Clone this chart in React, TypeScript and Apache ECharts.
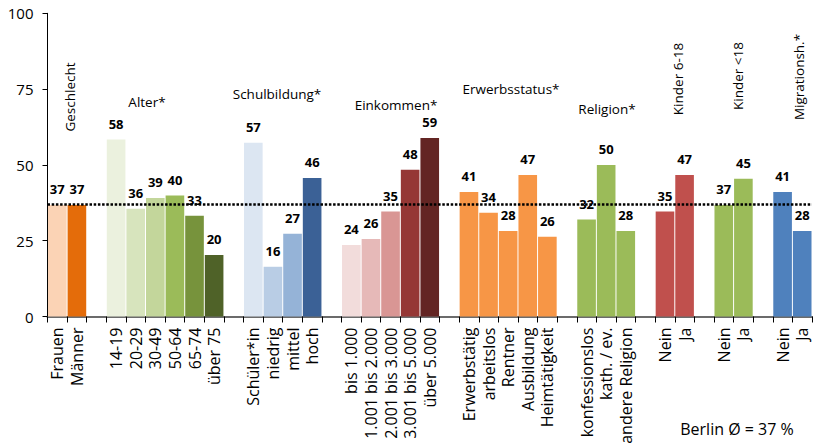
import React, { useEffect, useRef } from "react";
import * as echarts from "echarts";

// ---- data ----
const geschlechtNames = ["Frauen", "Männer"];
const geschlechtValues = [36.8, 36.8];
const alterNames = ["14-19", "20-29", "30-49", "50-64", "65-74", "über 75"];
const alterValues = [58.4, 35.5, 39.1, 39.9, 33.2, 20.3];
const schulNames = ["Schüler*in", "niedrig", "mittel", "hoch"];
const schulValues = [57.3, 16.4, 27.3, 45.7];
const einkommenNames = ["bis 1.000", "1.001 bis 2.000", "2.001 bis 3.000", "3.001 bis 5.000", "über 5.000"];
const einkommenValues = [23.6, 25.6, 34.6, 48.4, 58.9];
const erwerbNames = ["Erwerbstätig", "arbeitslos", "Rentner", "Ausbildung", "Heimtätigkeit"];
const erwerbValues = [41.1, 34.2, 28.2, 46.7, 26.3];
const religionNames = ["konfessionslos", "kath. / ev.", "andere Religion"];
const religionValues = [32.0, 50.0, 28.2];
const kinder618Names = ["Nein", "Ja"];
const kinder618Values = [34.6, 46.7];
const kinderU18Names = ["Nein", "Ja"];
const kinderU18Values = [36.8, 45.4];
const migrationNames = ["Nein", "Ja"];
const migrationValues = [41.1, 28.2];
const berlinAverage = 37;
const yTicks = [0, 25, 50, 75, 100];

const groupTitles = ["Geschlecht", "Alter*", "Schulbildung*", "Einkommen*", "Erwerbsstatus*", "Religion*", "Kinder 6-18", "Kinder <18", "Migrationsh.*"];
const noteText = "Berlin Ø = 37 %";

// ---- styles ----
const groupColors = [
  ["#FBD3B5", "#E46C0A"],
  ["#EBF1DE", "#D7E4BD", "#C3D69B", "#9BBB59", "#77933C", "#4F6228"],
  ["#DCE6F2", "#B9CDE5", "#95B3D7", "#3B6196"],
  ["#F2DCDB", "#E6B9B8", "#D99694", "#953735", "#632523"],
  ["#F79646", "#F79646", "#F79646", "#F79646", "#F79646"],
  ["#9BBB59", "#9BBB59", "#9BBB59"],
  ["#C0504D", "#C0504D"],
  ["#9BBB59", "#9BBB59"],
  ["#4F81BD", "#4F81BD"],
];

// title positions (center x, center y, vertical?)
const titlePos: [number, number, boolean][] = [
  [70, 97, true],
  [147, 102, false],
  [277, 94, false],
  [396, 105, false],
  [511, 89, false],
  [607, 109, false],
  [678, 79, true],
  [738, 76, true],
  [799, 77, true],
];

const groups = [
  { names: geschlechtNames, values: geschlechtValues },
  { names: alterNames, values: alterValues },
  { names: schulNames, values: schulValues },
  { names: einkommenNames, values: einkommenValues },
  { names: erwerbNames, values: erwerbValues },
  { names: religionNames, values: religionValues },
  { names: kinder618Names, values: kinder618Values },
  { names: kinderU18Names, values: kinderU18Values },
  { names: migrationNames, values: migrationValues },
];

export default function App() {
  const ref = useRef<HTMLDivElement>(null);
  useEffect(() => {
    if (!ref.current) return;
    const chart = echarts.init(ref.current, null, { renderer: "svg" });

    const categories: string[] = [];
    const seriesData: any[] = [];
    groups.forEach((g, gi) => {
      if (gi > 0) {
        categories.push("");
        seriesData.push("-");
      }
      g.names.forEach((n, i) => {
        categories.push(n);
        seriesData.push({ value: g.values[i], itemStyle: { color: groupColors[gi][i] } });
      });
    });

    const graphics: any[] = groupTitles.map((t, i) => {
      const [x, y, vert] = titlePos[i];
      return {
        type: "text",
        x,
        y,
        rotation: vert ? Math.PI / 2 : 0,
        style: {
          text: t,
          fill: "#000",
          font: "13.5px 'Open Sans'",
          align: "center",
          verticalAlign: "middle",
        },
      };
    });
    graphics.push({
      type: "text",
      x: 737,
      y: 429,
      style: {
        text: noteText,
        fill: "#000",
        font: "16px 'Open Sans'",
        align: "center",
        verticalAlign: "middle",
      },
    });

    chart.setOption({
      animation: false,
      backgroundColor: "#fff",
      grid: {
        left: 47.5,
        right: 11,
        top: 13.3,
        bottom: 129.5,
        containLabel: false,
        outerBoundsMode: "none",
      },
      xAxis: {
        type: "category",
        data: categories,
        axisLine: { show: true, lineStyle: { color: "#6b6b6b", width: 2 } },
        axisTick: { show: true, length: 6, lineStyle: { color: "#000", width: 1 } },
        axisLabel: {
          interval: 0,
          rotate: 90,
          margin: 11,
          color: "#000",
          fontFamily: "'Open Sans'",
          fontSize: 16,
        },
        splitLine: { show: false },
      },
      yAxis: {
        type: "value",
        min: yTicks[0],
        max: yTicks[yTicks.length - 1],
        interval: 25,
        axisLine: { show: true, lineStyle: { color: "#000", width: 1 } },
        axisTick: { show: true, length: 5, lineStyle: { color: "#000" } },
        axisLabel: { color: "#000", fontFamily: "'Open Sans'", fontSize: 15, margin: 14 },
        splitLine: { show: false },
      },
      series: [
        {
          type: "bar",
          data: seriesData,
          barCategoryGap: "5%",
          label: {
            show: true,
            position: "top",
            distance: 9,
            color: "#000",
            fontFamily: "'Open Sans'",
            fontWeight: "bold",
            fontSize: 13,
            formatter: (p: any) => String(Math.round(p.value)),
          },
          markLine: {
            silent: true,
            symbol: "none",
            label: { show: false },
            lineStyle: { type: [2.5, 1.7], color: "#000", width: 2.5 },
            data: [{ yAxis: berlinAverage }],
          },
        },
      ],
      graphic: graphics,
    });
    return () => chart.dispose();
  }, []);
  return (
    <div
      ref={ref}
      style={{ position: "fixed", left: 0, top: 0, width: 823, height: 446, background: "#fff" }}
    />
  );
}
